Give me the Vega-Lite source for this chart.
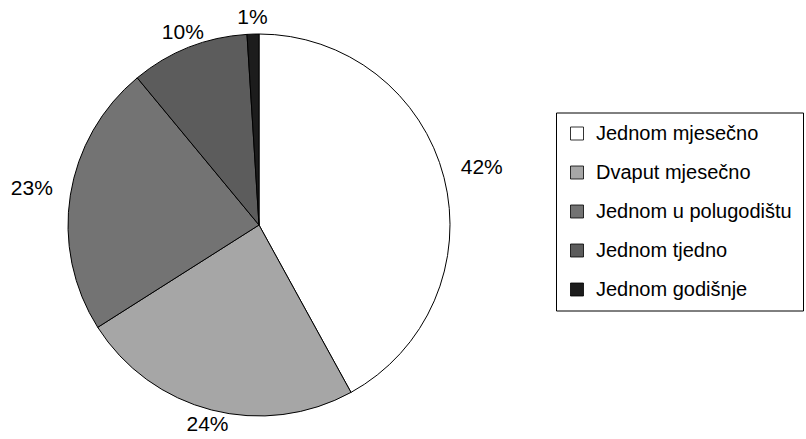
{
  "$schema": "https://vega.github.io/schema/vega-lite/v6.json",
  "autosize": "none",
  "padding": {"left": 0, "top": 5.5, "right": 288, "bottom": 0},
  "width": 518,
  "height": 439,
  "background": "white",
  "data": {"values": [
    {"cat": "Jednom mjesečno", "val": 42, "ord": 1, "lab": "42%"},
    {"cat": "Dvaput mjesečno", "val": 24, "ord": 2, "lab": "24%"},
    {"cat": "Jednom u polugodištu", "val": 23, "ord": 3, "lab": "23%"},
    {"cat": "Jednom tjedno", "val": 10, "ord": 4, "lab": "10%"},
    {"cat": "Jednom godišnje", "val": 1, "ord": 5, "lab": "1%"}
  ]},
  "encoding": {
    "theta": {"field": "val", "type": "quantitative", "stack": true},
    "order": {"field": "ord", "type": "quantitative"}
  },
  "layer": [
    {
      "mark": {"type": "arc", "outerRadius": 191, "stroke": "black", "strokeWidth": 1},
      "encoding": {
        "color": {
          "field": "cat", "type": "nominal",
          "sort": ["Jednom mjesečno", "Dvaput mjesečno", "Jednom u polugodištu", "Jednom tjedno", "Jednom godišnje"],
          "scale": {
            "domain": ["Jednom mjesečno", "Dvaput mjesečno", "Jednom u polugodištu", "Jednom tjedno", "Jednom godišnje"],
            "range": ["#ffffff", "#a6a6a6", "#737373", "#5c5c5c", "#1c1c1c"]
          },
          "legend": {
            "title": null,
            "orient": "none",
            "legendX": 556,
            "legendY": 107,
            "padding": 11,
            "strokeColor": "black",
            "fillColor": "white",
            "symbolType": "square",
            "symbolSize": 169,
            "symbolStrokeColor": "black",
            "symbolStrokeWidth": 0.8,
            "symbolOpacity": 1,
            "labelFont": "Liberation Sans",
            "labelFontSize": 20,
            "labelColor": "black",
            "labelLimit": 400,
            "labelOffset": 9,
            "rowPadding": 19
          }
        }
      }
    },
    {
      "mark": {"type": "text", "radius": 230, "font": "Liberation Sans", "fontSize": 21, "color": "black"},
      "encoding": {
        "text": {"field": "lab"},
        "opacity": {"condition": {"test": "datum.val == 42 || datum.val == 23", "value": 1}, "value": 0}
      }
    },
    {
      "mark": {"type": "text", "radius": 207, "font": "Liberation Sans", "fontSize": 21, "color": "black"},
      "encoding": {
        "text": {"field": "lab"},
        "opacity": {"condition": {"test": "datum.val == 42 || datum.val == 23", "value": 0}, "value": 1}
      }
    }
  ],
  "config": {"view": {"stroke": null}}
}
